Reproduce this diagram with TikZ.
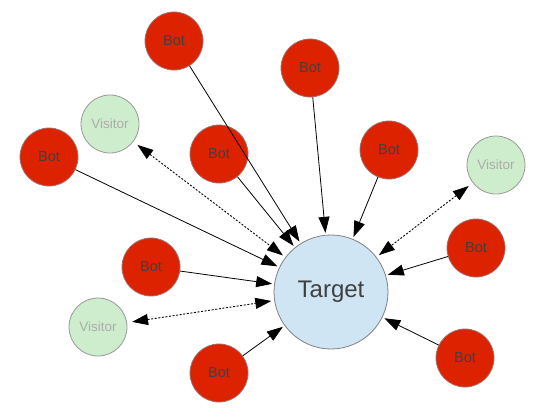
\documentclass[tikz,border=0pt]{standalone}
\usepackage{fontspec}
\setmainfont{Liberation Sans}
\usetikzlibrary{arrows.meta}
\definecolor{botred}{HTML}{DD2200}
\definecolor{botline}{HTML}{A0706A}
\definecolor{visgreen}{HTML}{CDEDCD}
\definecolor{tgtblue}{HTML}{CFE5F3}
\tikzset{
  party/.style={circle, draw, line width=0.8pt, inner sep=0pt, minimum size=58pt},
  bot/.style={party, fill=botred, draw=botline, text=black!75, font=\fontsize{14.5}{16}\selectfont},
  visitor/.style={party, fill=visgreen, draw=gray!80, text=gray!65, font=\fontsize{13.5}{16}\selectfont},
  target/.style={party, fill=tgtblue, draw=gray, minimum size=114pt, text=black!75,
                 font=\fontsize{24}{28}\selectfont},
  hit/.style={-{Triangle[length=16pt,width=11pt]}, line width=0.8pt, shorten >=2pt},
  browse/.style={{Triangle[length=16pt,width=11pt]}-{Triangle[length=16pt,width=11pt]},
                 line width=0.9pt, dash pattern=on 2pt off 1.6pt, shorten >=3pt, shorten <=5pt},
}
\begin{document}
\begin{tikzpicture}[x=1pt, y=-1pt]
  \useasboundingbox (0,0) rectangle (540,416);
  \node[target] (target) at (331,292) {Target};
  % bots
  \node[bot] (b1) at (174,41)  {Bot};
  \node[bot] (b2) at (310,68)  {Bot};
  \node[bot] (b3) at (219,154) {Bot};
  \node[bot] (b4) at (389,150) {Bot};
  \node[bot] (b5) at (49,157)  {Bot};
  \node[bot] (b6) at (151,267) {Bot};
  \node[bot] (b7) at (476,248) {Bot};
  \node[bot] (b8) at (219,373) {Bot};
  \node[bot] (b9) at (465,358) {Bot};
  % visitors
  \node[visitor] (v1) at (110,124) {Visitor};
  \node[visitor] (v2) at (496,165) {Visitor};
  \node[visitor] (v3) at (98,327)  {Visitor};
  \foreach \b in {b1,b2,b3,b4,b5,b6,b7,b8,b9}
    \draw[hit] (\b) -- (target);
  \foreach \v in {v1,v2,v3}
    \draw[browse] (\v) -- (target);
\end{tikzpicture}
\end{document}
